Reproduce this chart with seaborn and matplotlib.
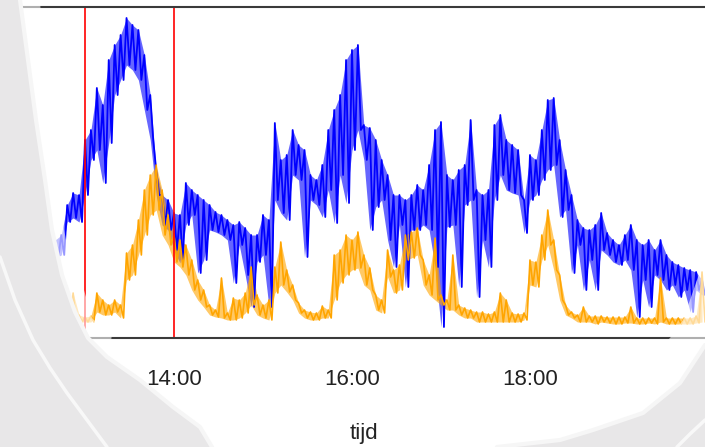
#Importing Libraries
import numpy as np
import pandas as pd
import matplotlib
matplotlib.use("Agg")
import matplotlib.pyplot as plt
import matplotlib.dates as mdates
import seaborn as sns
from matplotlib.patches import Polygon
from matplotlib.lines import Line2D

#Data: sample every 4 minutes, upper and lower edge of each band
tijd = pd.date_range("2020-01-01 12:36", "2020-01-01 19:56", freq="4min")

blue_hi = [110, 98, 103, 133, 145, 143, 198, 208, 250, 233, 278, 293, 303, 320, 313, 308, 283, 243, 168, 143,
           138, 125, 123, 155, 148, 143, 138, 133, 126, 123, 118, 113, 116, 110, 103, 103, 123, 118, 215, 178,
           183, 208, 193, 188, 163, 158, 173, 208, 228, 243, 278, 288, 293, 213, 210, 198, 178, 163, 143, 143,
           138, 143, 153, 148, 173, 208, 216, 163, 158, 168, 173, 218, 148, 143, 148, 213, 223, 198, 193, 188,
           138, 183, 178, 208, 238, 240, 198, 168, 143, 118, 110, 108, 113, 125, 105, 98, 93, 103, 113, 98,
           93, 98, 88, 98, 83, 76, 73, 70, 68, 66, 58]
blue_lo = [93, 80, 83, 116, 120, 116, 143, 178, 188, 155, 195, 243, 258, 273, 268, 258, 228, 198, 143, 113,
           108, 88, 75, 113, 123, 65, 78, 108, 106, 103, 98, 55, 93, 63, 31, 76, 83, 31, 138, 125,
           118, 163, 158, 81, 138, 133, 121, 148, 115, 163, 135, 188, 208, 178, 108, 131, 138, 98, 71, 113,
           51, 108, 108, 113, 108, 71, 11, 111, 113, 51, 133, 138, 41, 98, 71, 138, 163, 148, 145, 143,
           105, 138, 143, 158, 168, 173, 121, 128, 65, 93, 48, 78, 48, 88, 83, 76, 73, 78, 68, 21,
           58, 31, 63, 58, 48, 53, 41, 48, 26, 48, 43]

orange_hi = [20, 20, 22, 28, 45, 23, 21, 22, 45, 38, 33, 38, 33, 85, 93, 118, 148, 163, 173, 148,
             123, 103, 98, 93, 78, 58, 48, 33, 28, 60, 25, 40, 38, 45, 71, 43, 33, 38, 71, 96,
             68, 53, 35, 28, 26, 25, 32, 28, 83, 88, 103, 98, 106, 83, 70, 43, 38, 88, 68, 73,
             103, 106, 110, 78, 63, 100, 43, 38, 83, 33, 30, 28, 26, 26, 24, 26, 45, 38, 25, 24,
             25, 78, 76, 103, 128, 98, 63, 33, 26, 23, 31, 22, 22, 22, 21, 21, 21, 21, 31, 20,
             20, 20, 20, 60, 20, 20, 20, 20, 20, 22, 66]
orange_lo = [14, 14, 16, 16, 16, 16, 16, 16, 26, 23, 23, 26, 20, 58, 63, 83, 103, 123, 128, 103,
             93, 76, 71, 63, 48, 38, 31, 23, 21, 20, 18, 18, 20, 25, 33, 23, 20, 18, 45, 53,
             46, 38, 25, 20, 18, 18, 20, 20, 38, 55, 63, 68, 70, 53, 48, 28, 25, 61, 45, 48,
             78, 80, 83, 53, 43, 38, 33, 28, 28, 23, 20, 20, 16, 16, 16, 16, 16, 16, 16, 16,
             18, 53, 51, 78, 93, 68, 38, 23, 20, 16, 16, 16, 14, 16, 15, 14, 14, 15, 15, 14,
             14, 15, 14, 16, 14, 14, 14, 14, 14, 15, 16]

markers = ["2020-01-01 13:00", "2020-01-01 14:00"]
tick_hours = [14, 16, 18, 20]

#Interleave upper and lower edge so the line zigzags through the band
def band(hi, lo):
    x = np.ravel(np.column_stack([tijd.values, (tijd + pd.Timedelta(minutes=2)).values]))
    y = np.ravel(np.column_stack([hi, lo]))
    return pd.DataFrame({"tijd": x, "waarde": y})

blue = band(blue_hi, blue_lo)
orange = band(orange_hi, orange_lo)

#Plot
sns.set_style("white")
plt.rcParams["font.family"] = ["Liberation Sans", "DejaVu Sans"]

W, H = 705, 447
fig = plt.figure(figsize=(W / 100, H / 100), dpi=100)
ax = fig.add_axes([0, 109 / H, 1, 331 / H])

ax.fill_between(tijd, blue_hi, blue_lo, color="#0000ff", alpha=0.6, lw=0)
sns.lineplot(data=blue, x="tijd", y="waarde", color="#0000ff", lw=1.3,
             estimator=None, sort=False, ax=ax)
ax.fill_between(tijd, orange_hi, orange_lo, color="#ffa500", alpha=0.6, lw=0)
sns.lineplot(data=orange, x="tijd", y="waarde", color="#ffa500", lw=1.2,
             estimator=None, sort=False, ax=ax)
for m in markers:
    ax.axvline(pd.Timestamp(m), color="#ff0000", lw=1.2)

ax.set_xlim(pd.Timestamp("2020-01-01 12:02:42"), pd.Timestamp("2020-01-01 19:58"))
ax.set_ylim(0, 331)
ax.xaxis.set_major_locator(mdates.HourLocator(byhour=tick_hours))
ax.xaxis.set_major_formatter(mdates.DateFormatter("%H:%M"))
ax.set_yticks([])
ax.set_xlabel("")
ax.set_ylabel("")
for s in ["left", "right"]:
    ax.spines[s].set_visible(False)
for s in ["top", "bottom"]:
    ax.spines[s].set_color("#3a3a3a")
    ax.spines[s].set_linewidth(1.5)
ax.tick_params(axis="x", length=9.4, width=1.5, color="#3a3a3a",
               labelsize=16, labelcolor="#222222", pad=13)

fig.text(364 / W, 1 - 433 / H, "tijd", ha="center", va="center",
         fontsize=16, color="#222222")

#Decorative slide background (gray swooshes) on top
def fpx(pts):
    return [(x / W, 1 - y / H) for x, y in pts]

gray = "#e8e7e8"
left_edge = [(20, 0), (28, 60), (36, 120), (45, 180), (52, 230), (62, 275), (75, 312),
             (88, 338), (107, 357), (140, 380), (173, 407), (200, 427), (212, 447)]
fade_left = left_edge[:8] + [(100, 347), (112, 338), (92, 318), (84, 290), (66, 240),
                             (55, 180), (46, 100), (40, 0)]
fig.add_artist(Polygon(fpx(fade_left), closed=True, transform=fig.transFigure,
                       fc="white", ec="none", alpha=0.6, zorder=5))
fig.add_artist(Polygon(fpx([(0, 0)] + left_edge + [(0, 447)]), closed=True,
                       transform=fig.transFigure, fc=gray, ec="none", zorder=6))
xs, ys = zip(*fpx(left_edge))
fig.add_artist(Line2D(xs, ys, transform=fig.transFigure, color="#f6f6f6", lw=3, zorder=7))
xs, ys = zip(*fpx([(0, 257), (15, 300), (33, 340), (50, 368), (67, 393), (87, 420), (107, 447)]))
fig.add_artist(Line2D(xs, ys, transform=fig.transFigure, color="#f8f8f8", lw=2.5, zorder=7))

right_edge = [(705, 345), (680, 383), (643, 413), (593, 430), (560, 440), (497, 447)]
fade_right = [(705, 255), (697, 280), (683, 320), (670, 338), (640, 365), (590, 395),
              (497, 447)] + right_edge[::-1]
fig.add_artist(Polygon(fpx(fade_right), closed=True, transform=fig.transFigure,
                       fc="white", ec="none", alpha=0.6, zorder=5))
fig.add_artist(Polygon(fpx(right_edge + [(705, 447)]), closed=True,
                       transform=fig.transFigure, fc=gray, ec="none", zorder=6))
xs, ys = zip(*fpx(right_edge))
fig.add_artist(Line2D(xs, ys, transform=fig.transFigure, color="#f6f6f6", lw=3, zorder=7))
xs, ys = zip(*fpx([(705, 420), (690, 434), (677, 447)]))
fig.add_artist(Line2D(xs, ys, transform=fig.transFigure, color="#f8f8f8", lw=2.5, zorder=7))

fig.savefig("out.png", dpi=100)
